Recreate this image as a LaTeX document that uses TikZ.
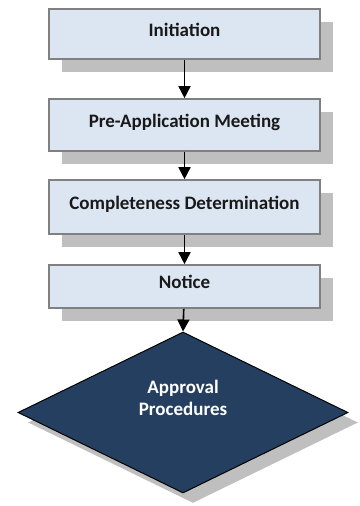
\documentclass[tikz,border=0pt]{standalone}
\usepackage{fontspec}
\setmainfont{Carlito}
\usetikzlibrary{arrows.meta,positioning,shapes.geometric,shadows}

\definecolor{stagefill}{HTML}{DCE6F2}
\definecolor{decisionfill}{HTML}{243F60}
\tikzset{
  stagebox/.style={draw=black!50,line width=1.6pt,fill=stagefill,minimum width=271pt,
    inner sep=0pt,text height=14pt,text depth=10pt,
    font=\fontsize{19}{22}\selectfont\bfseries,text=black!90,
    drop shadow={shadow xshift=13pt,shadow yshift=-13pt,fill=black!25,opacity=1}},
  decisionbox/.style={diamond,draw=black,line width=1pt,fill=decisionfill,inner sep=0pt,
    minimum width=330pt,minimum height=161pt,text=white,
    font=\fontsize{19}{22}\selectfont\bfseries,
    drop shadow={shadow xshift=10pt,shadow yshift=-10pt,fill=black!25,opacity=1}},
  flow/.style={-{Triangle[length=12pt,width=12pt]},line width=1.6pt,black}
}
\newcommand{\twolines}[2]{\raisebox{8pt}[0pt][0pt]{\begin{tabular}{@{}c@{}}#1\\#2\end{tabular}}}

\begin{document}
\begin{tikzpicture}[x=1pt,y=1pt]
\path[use as bounding box] (0,0) rectangle (359,-506);
\node[stagebox,minimum height=50pt] (init) at (184.5,-34) {Initiation};
\node[stagebox,minimum height=52pt] (preapp) at (184.5,-125) {Pre-Application Meeting};
\node[stagebox,minimum height=54pt] (complete) at (184.5,-207) {Completeness Determination};
\node[stagebox,minimum height=43pt] (notice) at (184.5,-286.5) {Notice};
\node[decisionbox] (approval) at (183,-412.5) {\twolines{Approval}{Procedures}};
\draw[flow] (init) -- (preapp);
\draw[flow] (preapp) -- (complete);
\draw[flow] (complete) -- (notice);
\draw[flow] (notice) -- (approval.north);
\end{tikzpicture}
\end{document}
